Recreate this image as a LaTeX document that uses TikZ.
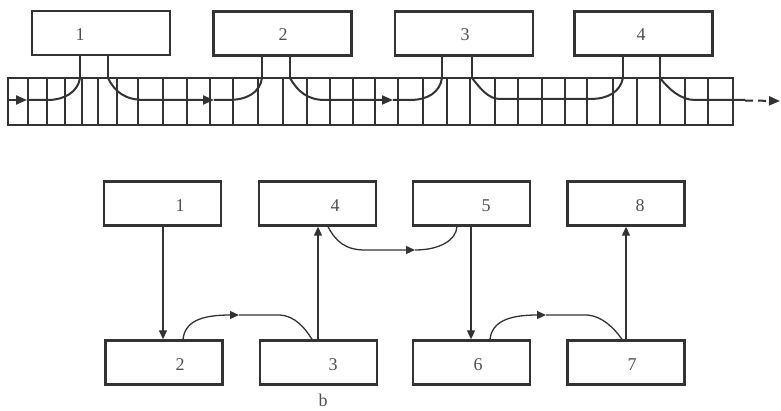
\documentclass[tikz,border=0pt]{standalone}
\usepackage{fontspec}
\setmainfont{Liberation Serif}
\usetikzlibrary{arrows.meta}
\definecolor{ink}{HTML}{333333}
\definecolor{txt}{HTML}{505050}
\begin{document}
\begin{tikzpicture}[x=1pt,y=-1pt,
  topbox/.style={draw=ink,line width=2.4pt,rectangle,minimum width=138pt,minimum height=44pt,inner sep=0pt},
  botbox/.style={draw=ink,line width=2.4pt,rectangle,minimum width=117pt,minimum height=44pt,inner sep=0pt},
  lbl/.style={text=txt,font=\fontsize{18}{20}\selectfont,inner sep=0pt},
  cell/.style={draw=ink,line width=2.4pt},
  flow/.style={draw=ink,line width=2pt},
  conn/.style={draw=ink,line width=1.3pt},
  tip/.style={-{Triangle[length=11pt,width=9pt]}},
  stip/.style={-{Triangle[length=9pt,width=8pt]}}
]
\useasboundingbox (0,0) rectangle (781,411);
% ---------- top: boxes ----------
\node[topbox] (t1) at (101,33) {};
\node[topbox] (t2) at (282.5,33.5) {};
\node[topbox] (t3) at (464,33.5) {};
\node[topbox] (t4) at (643.5,33.5) {};
\node[lbl] (tl1) at (80,35) {1};
\node[lbl] (tl2) at (283,35) {2};
\node[lbl] (tl3) at (465,35) {3};
\node[lbl] (tl4) at (641,35) {4};
% ---------- strip ----------
\node[draw=ink,line width=2.4pt,rectangle,minimum width=725pt,minimum height=47pt,inner sep=0pt] (strip) at (370.5,101.5) {};
\foreach \x in {28,47,65,82,98,117,138,163,187,210,233,258,283,307,330,353,375,398,423,447,470,495,518,542,565,587,613,637,660,685,708}
  \draw[cell] (\x,78) -- (\x,125);
% stems
\foreach \b/\x in {t1/80,t1/108,t2/262,t2/290,t3/442,t3/472,t4/623,t4/660}
  \draw[cell] (\x,0 |- \b.south) -- (\x,0 |- strip.north);
% ---------- flow arrows in strip ----------
\coordinate (s0) at (8,100);
\coordinate (a0) at (27,100);
\coordinate (h1) at (80,78);
\coordinate (h2) at (108,78);
\coordinate (a1) at (214,100);
\coordinate (h3) at (262,78);
\coordinate (h4) at (290,78);
\coordinate (a2) at (393,100);
\coordinate (h5) at (442,78);
\coordinate (h6) at (472,78);
\coordinate (h7) at (623,78);
\coordinate (h8) at (660,78);
\coordinate (a4) at (780,101);
\draw[flow,tip] (s0) -- (a0);
\draw[flow] (a0) -- (48,100) .. controls (64,100) and (78,92) .. (h1);
\draw[flow,tip] (h2) .. controls (115,92) and (125,100) .. (145,100) -- (a1);
\draw[flow] (a1) -- (228,100) .. controls (248,100) and (260,92) .. (h3);
\draw[flow,tip] (h4) .. controls (298,92) and (308,100) .. (325,100) -- (a2);
\draw[flow] (a2) -- (410,100) .. controls (428,100) and (440,92) .. (h5);
\draw[flow] (h6) .. controls (480,88) and (488,99) .. (500,99) -- (590,99) .. controls (608,99) and (620,92) .. (h7);
\draw[flow] (h8) .. controls (668,88) and (680,100) .. (695,100) -- (745,100);
\draw[flow,dashed,dash pattern=on 8pt off 5pt,tip] (745,100.5) -- (a4);
% ---------- bottom: boxes ----------
\node[botbox] (b1) at (162.5,203.5) {};
\node[botbox] (b4) at (317.5,203.5) {};
\node[botbox] (b5) at (471.5,203.5) {};
\node[botbox] (b8) at (626,203.5) {};
\node[botbox] (b2) at (164,362.5) {};
\node[botbox] (b3) at (318.5,362.5) {};
\node[botbox] (b6) at (471.5,362.5) {};
\node[botbox] (b7) at (626,362.5) {};
\node[lbl] (l1) at (180,206) {1};
\node[lbl] (l4) at (335,206) {4};
\node[lbl] (l5) at (486,206) {5};
\node[lbl] (l8) at (640,206) {8};
\node[lbl] (l2) at (180,365) {2};
\node[lbl] (l3) at (333,365) {3};
\node[lbl] (l6) at (478,365) {6};
\node[lbl] (l7) at (632,365) {7};
\node[lbl] (lb) at (323,400) {b};
% vertical connectors
\draw[conn,stip] (163,0 |- b1.south) -- (163,0 |- b2.north);
\draw[conn,stip] (318,0 |- b3.north) -- (318,0 |- b4.south);
\draw[conn,stip] (471,0 |- b5.south) -- (471,0 |- b6.north);
\draw[conn,stip] (626,0 |- b7.north) -- (626,0 |- b8.south);
% curved connectors
\coordinate (c1) at (239,315);
\draw[conn,stip] (183,0 |- b2.north) .. controls (185,322) and (200,315) .. (c1);
\draw[conn] (c1) -- (280,315) .. controls (295,316) and (305,328) .. (312,0 |- b3.north);
\coordinate (c2) at (415,250);
\draw[conn,stip] (328,0 |- b4.south) .. controls (336,242) and (346,250) .. (365,250) -- (c2);
\draw[conn] (c2) .. controls (440,250) and (456,240) .. (457,0 |- b5.south);
\coordinate (c3) at (546,315);
\draw[conn,stip] (490,0 |- b6.north) .. controls (492,322) and (508,315) .. (c3);
\draw[conn] (c3) -- (587,315) .. controls (602,316) and (614,328) .. (622,0 |- b7.north);
\end{tikzpicture}
\end{document}
